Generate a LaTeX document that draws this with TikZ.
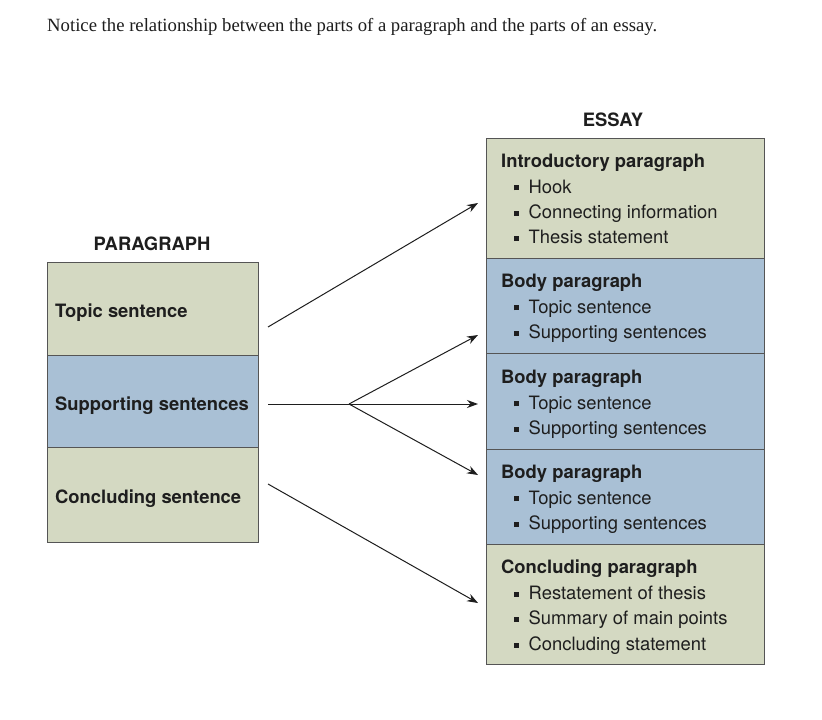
\documentclass[tikz,border=0pt]{standalone}
\usepackage{fontspec}
\setmainfont{TeX Gyre Heros}
\newfontfamily\titlefont{Liberation Serif}
\usetikzlibrary{arrows.meta}
\definecolor{secgreen}{HTML}{D4D9C2}
\definecolor{secblue}{HTML}{A9C0D5}
\definecolor{edge}{HTML}{555555}
\definecolor{ink}{HTML}{1E1E1E}
\newcommand\bul{\rule[0.14em]{0.27em}{0.27em}}
\newcommand\itm[1]{\hspace*{13pt}\bul\hspace{9.5pt}#1}
\begin{document}
\begin{tikzpicture}[x=1pt,y=-1pt,
  sec/.style={draw=edge,line width=0.8pt,minimum width=#1,inner sep=0pt,anchor=north west},
  body/.style={font=\fontsize{18.4}{25.4}\selectfont,text=ink,align=left,inner sep=0pt,anchor=north west},
  lbl/.style={font=\fontsize{18.4}{22}\selectfont\bfseries,text=ink,inner sep=0pt,anchor=base west},
  hdr/.style={font=\fontsize{18.4}{22}\selectfont\bfseries,text=ink,inner sep=0pt,anchor=base},
  conn/.style={draw=ink,line width=1pt},
  arr/.style={conn,-{Stealth[length=11pt,width=8pt]}}]
\useasboundingbox (0,0) rectangle (822,720);
\fill[white] (0,0) rectangle (822,720);
% title
\node[font=\titlefont\fontsize{18.7}{22}\selectfont,text=ink,inner sep=0pt,anchor=base west] (title) at (47,31)
  {Notice the relationship between the parts of a paragraph and the parts of an essay.};
% paragraph column
\node[hdr] (phdr) at (152,250) {PARAGRAPH};
\node[sec=211pt,fill=secgreen,minimum height=93pt] (ptopic) at (47,262) {};
\node[sec=211pt,fill=secblue,minimum height=92pt] (psupp) at (47,355) {};
\node[sec=211pt,fill=secgreen,minimum height=95pt] (pconc) at (47,447) {};
\node[lbl] (ttopic) at (55,317) {Topic sentence};
\node[lbl] (tsupp) at (55,410) {Supporting sentences};
\node[lbl] (tconc) at (55,503) {Concluding sentence};
% essay column
\node[hdr] (ehdr) at (613,126) {ESSAY};
\node[sec=278pt,fill=secgreen,minimum height=120pt] (eintro) at (486,138) {};
\node[sec=278pt,fill=secblue,minimum height=95pt] (ebodya) at (486,258) {};
\node[sec=278pt,fill=secblue,minimum height=96pt] (ebodyb) at (486,353) {};
\node[sec=278pt,fill=secblue,minimum height=95pt] (ebodyc) at (486,449) {};
\node[sec=278pt,fill=secgreen,minimum height=120pt] (econc) at (486,544) {};
\node[body] (xintro) at (501,154) {\textbf{Introductory paragraph}\\\itm{Hook}\\\itm{Connecting information}\\\itm{Thesis statement}};
\node[body] (xbodya) at (501,274) {\textbf{Body paragraph}\\\itm{Topic sentence}\\\itm{Supporting sentences}};
\node[body] (xbodyb) at (501,370) {\textbf{Body paragraph}\\\itm{Topic sentence}\\\itm{Supporting sentences}};
\node[body] (xbodyc) at (501,465) {\textbf{Body paragraph}\\\itm{Topic sentence}\\\itm{Supporting sentences}};
\node[body] (xconc) at (501,560) {\textbf{Concluding paragraph}\\\itm{Restatement of thesis}\\\itm{Summary of main points}\\\itm{Concluding statement}};
% connector end points
\coordinate (sA) at (268,327);
\coordinate (eA) at (478,203);
\coordinate (sB) at (268,404);
\coordinate (fork) at (349,404);
\coordinate (eB1) at (478,335);
\coordinate (eB2) at (478,404);
\coordinate (eB3) at (478,475);
\coordinate (sC) at (268,484);
\coordinate (eC) at (478,603);
\draw[arr] (sA) -- (eA);
\draw[conn] (sB) -- (fork);
\draw[arr] (fork) -- (eB1);
\draw[arr] (fork) -- (eB2);
\draw[arr] (fork) -- (eB3);
\draw[arr] (sC) -- (eC);
\end{tikzpicture}
\end{document}
